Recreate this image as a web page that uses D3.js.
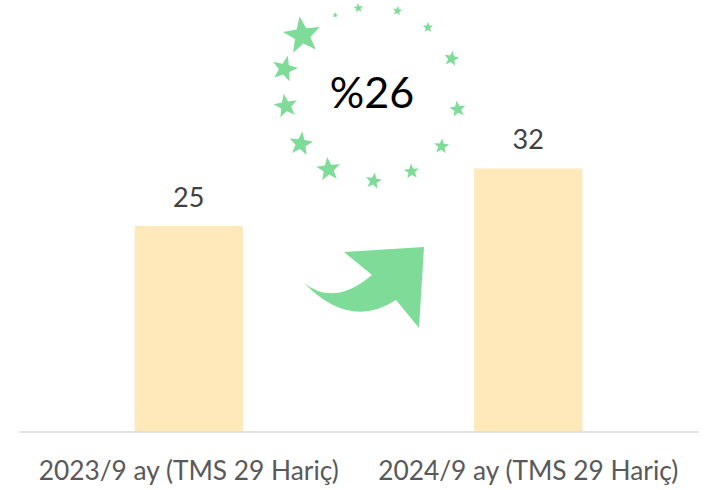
<!DOCTYPE html>
<html>
<head>
<meta charset="utf-8">
<script src="https://cdn.jsdelivr.net/npm/d3@7"></script>
<style>
  body { margin: 0; background: #fff; }
  svg { display: block; font-family: Lato, "Open Sans", sans-serif; }
</style>
</head>
<body>
<div id="chart"></div>
<script>
// chart data
var categories = ['2023/9 ay (TMS 29 Hariç)', '2024/9 ay (TMS 29 Hariç)'];
var values = [25, 32];
var growthLabel = '%26';

var width = 707, height = 490;
var baseY = 431.5;

var svg = d3.select('#chart')
  .append('svg')
  .attr('width', width)
  .attr('height', height);

var x = d3.scaleBand()
  .domain(categories)
  .range([19, 698])
  .paddingInner(0.681)
  .paddingOuter(0.3405);

// about 8.2px per unit
var y = d3.scaleLinear()
  .domain([0, 35])
  .range([baseY, baseY - 35 * 8.22]);

svg.selectAll('.bar')
  .data(values)
  .enter()
  .append('rect')
  .attr('class', 'bar')
  .attr('x', function(d, i) { return x(categories[i]); })
  .attr('y', function(d) { return y(d); })
  .attr('width', x.bandwidth())
  .attr('height', function(d) { return y(0) - y(d); })
  .attr('fill', '#ffe9bb');

svg.selectAll('.val')
  .data(values)
  .enter()
  .append('text')
  .attr('class', 'val')
  .attr('x', function(d, i) { return x(categories[i]) + x.bandwidth() / 2; })
  .attr('y', function(d) { return y(d) - 19; })
  .attr('text-anchor', 'middle')
  .attr('font-size', 27)
  .attr('fill', '#404040')
  .text(function(d) { return d; });

// axis: only the baseline and the category names
var xAxis = d3.axisBottom(x).tickSize(0).tickPadding(0);
var axisG = svg.append('g')
  .attr('transform', 'translate(0,' + baseY + ')')
  .call(xAxis);
axisG.select('.domain').attr('stroke', '#d9d9d9').attr('stroke-width', 1.5);
axisG.selectAll('text')
  .attr('dy', null)
  .attr('y', 48.5)
  .attr('font-family', 'Lato, sans-serif')
  .attr('font-size', 26.3)
  .attr('fill', '#595959');

// growth arrow between the bars
var green = '#7edc98';
var arrow = d3.path();
arrow.moveTo(304, 283);
arrow.quadraticCurveTo(334, 307, 372, 275);
arrow.lineTo(344, 252);
arrow.lineTo(424, 247);
arrow.lineTo(419, 328);
arrow.lineTo(396, 300);
arrow.quadraticCurveTo(350, 330, 304, 283);
arrow.closePath();
svg.append('path').attr('d', arrow.toString()).attr('fill', green);

// ring of stars round the growth rate
var ringCx = 372, ringCy = 94, ringR = 87;
var starRing = [
  { a: -115, r: 3, rot: 10 },
  { a: -99, r: 5, rot: -5 },
  { a: -73, r: 5, rot: 8 },
  { a: -50, r: 5.5, rot: 0 },
  { a: -24, r: 8, rot: 10 },
  { a: 10, r: 8.5, rot: -8 },
  { a: 37, r: 8, rot: 5 },
  { a: 63, r: 8, rot: -5 },
  { a: 89, r: 8.5, rot: 10 },
  { a: 120, r: 12.5, rot: -6 },
  { a: 145, r: 12.5, rot: 8 },
  { a: 172, r: 12.5, rot: -10 },
  { a: 196, r: 13.5, rot: 14 },
  { a: 220, r: 19.5, rot: -8 }
];

function starPath(R) {
  var pts = [];
  for (var k = 0; k < 10; k++) {
    var rr = k % 2 === 0 ? R : R * 0.42;
    var ang = -Math.PI / 2 + k * Math.PI / 5;
    pts.push([rr * Math.cos(ang), rr * Math.sin(ang)]);
  }
  return 'M' + pts.map(function(p) { return p[0].toFixed(2) + ',' + p[1].toFixed(2); }).join('L') + 'Z';
}

svg.selectAll('.star')
  .data(starRing)
  .enter()
  .append('path')
  .attr('class', 'star')
  .attr('d', function(d) { return starPath(d.r); })
  .attr('transform', function(d) {
    var t = d.a * Math.PI / 180;
    var dist = ringR + (d.r > 13 ? 4 : 0);
    return 'translate(' + (ringCx + dist * Math.cos(t)) + ',' + (ringCy + dist * Math.sin(t)) + ') rotate(' + d.rot + ')';
  })
  .attr('fill', green);

svg.append('text')
  .attr('x', ringCx)
  .attr('y', 108)
  .attr('text-anchor', 'middle')
  .attr('font-size', 43)
  .attr('fill', '#000')
  .text(growthLabel);
</script>
</body>
</html>
